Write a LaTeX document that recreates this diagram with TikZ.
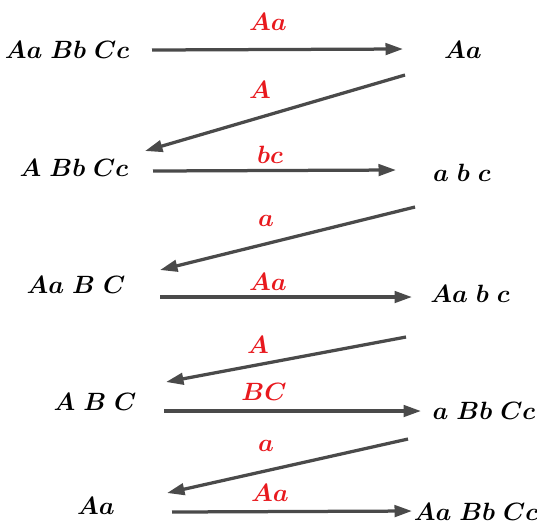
\documentclass[tikz,border=0pt]{standalone}
\usepackage{amsmath,bm}
\usepackage{tikz}
\usetikzlibrary{arrows.meta}
\definecolor{ink}{HTML}{4A4A4A}
\definecolor{mark}{HTML}{E8191E}

\begin{document}
\begin{tikzpicture}[x=0.4pt,y=-0.4pt,
 gen/.style={inner sep=0pt,text=black,font=\fontsize{9.6}{11}\selectfont},
 lbl/.style={inner sep=0pt,text=mark,font=\fontsize{9.6}{11}\selectfont},
 arr/.style={-{Triangle[length=7pt,width=4.6pt]},draw=ink,line width=1.3pt}]
\useasboundingbox (0,0) rectangle (537,522);
% genotypes on the left and right
\node[gen] (l1) at (67,50) {$\bm{Aa\ Bb\ Cc}$};
\node[gen] (r1) at (463,50) {$\bm{Aa}$};
\node[gen] (l2) at (74,168) {$\bm{A\ Bb\ Cc}$};
\node[gen] (r2) at (462,173) {$\bm{a\ b\ c}$};
\node[gen] (l3) at (76,285) {$\bm{Aa\ B\ C}$};
\node[gen] (r3) at (470,294) {$\bm{Aa\ b\ c}$};
\node[gen] (l4) at (95,402) {$\bm{A\ B\ C}$};
\node[gen] (r4) at (484,411) {$\bm{a\ Bb\ Cc}$};
\node[gen] (l5) at (96,506) {$\bm{Aa}$};
\node[gen] (r5) at (476,512) {$\bm{Aa\ Bb\ Cc}$};
% arrow ends
\coordinate (s1) at (152,50);  \coordinate (e1) at (403,49);
\coordinate (s2) at (405,75);  \coordinate (e2) at (145,151);
\coordinate (s3) at (153,171); \coordinate (e3) at (396,170);
\coordinate (s4) at (415,207); \coordinate (e4) at (160,270);
\coordinate (s5) at (160,297); \coordinate (e5) at (412,297);
\coordinate (s6) at (406,337); \coordinate (e6) at (166,382);
\coordinate (s7) at (164,411); \coordinate (e7) at (421,411);
\coordinate (s8) at (408,439); \coordinate (e8) at (167,493);
\coordinate (s9) at (172,512); \coordinate (e9) at (412,511);
\foreach \i in {1,...,9} {\draw[arr] (s\i)--(e\i);}
% red labels
\node[lbl] (t1) at (268,22) {$\bm{Aa}$};
\node[lbl] (t2) at (260,90) {$\bm{A}$};
\node[lbl] (t3) at (270,155) {$\bm{bc}$};
\node[lbl] (t4) at (266,221) {$\bm{a}$};
\node[lbl] (t5) at (268,282) {$\bm{Aa}$};
\node[lbl] (t6) at (258,345) {$\bm{A}$};
\node[lbl] (t7) at (264,392) {$\bm{BC}$};
\node[lbl] (t8) at (266,446) {$\bm{a}$};
\node[lbl] (t9) at (270,493) {$\bm{Aa}$};
\end{tikzpicture}
\end{document}
